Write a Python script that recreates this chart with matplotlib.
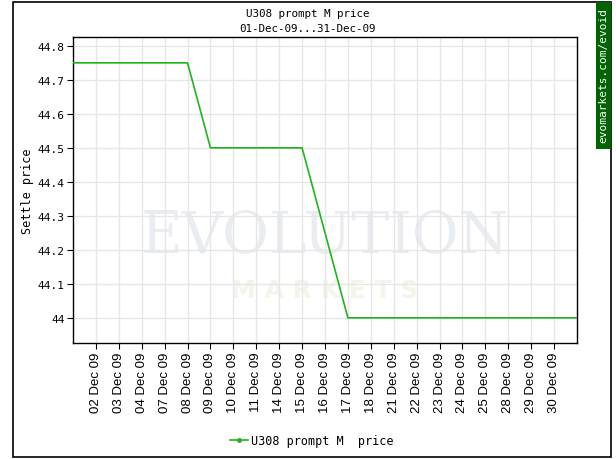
import matplotlib
matplotlib.use("Agg")
import matplotlib.pyplot as plt
from matplotlib.patches import Rectangle

# daily settle prices, 01-Dec-09 .. 31-Dec-09 (trading days only)
dates = ["01 Dec 09", "02 Dec 09", "03 Dec 09", "04 Dec 09", "07 Dec 09", "08 Dec 09",
         "09 Dec 09", "10 Dec 09", "11 Dec 09", "14 Dec 09", "15 Dec 09", "16 Dec 09",
         "17 Dec 09", "18 Dec 09", "21 Dec 09", "22 Dec 09", "23 Dec 09", "24 Dec 09",
         "25 Dec 09", "28 Dec 09", "29 Dec 09", "30 Dec 09", "31 Dec 09"]
prices = [44.75, 44.75, 44.75, 44.75, 44.75, 44.75,
          44.5, 44.5, 44.5, 44.5, 44.5, 44.25,
          44.0, 44.0, 44.0, 44.0, 44.0, 44.0,
          44.0, 44.0, 44.0, 44.0, 44.0]
y_ticks = [44.0, 44.1, 44.2, 44.3, 44.4, 44.5, 44.6, 44.7, 44.8]

mono = "DejaVu Sans Mono"
line_col = "#1fb41f"

fig = plt.figure(figsize=(6.16, 4.6), dpi=100)
ax = fig.add_axes([0.1185, 0.2522, 0.8182, 0.6652])

x = list(range(len(dates)))

# watermark
ax.text(0.5, 0.35, "EVOLUTION", transform=ax.transAxes, ha="center", va="center",
        fontsize=41, family="DejaVu Serif", color="#e9edf1", zorder=0)
ax.text(0.5, 0.173, "M A R K E T S", transform=ax.transAxes, ha="center", va="center",
        fontsize=18, family="DejaVu Sans", weight="bold", color="#f1f5ea", zorder=0)

ax.plot(x, prices, color=line_col, lw=1.2, zorder=3)

ax.set_xlim(0, len(dates) - 1)
ax.set_ylim(43.926, 44.826)
ax.set_xticks(x[1:-1])
ax.set_xticklabels(dates[1:-1], rotation=90, fontsize=9.5, family="Liberation Sans")
ax.set_yticks(y_ticks)
ax.set_yticklabels([f"{v:g}" for v in y_ticks], fontsize=8, family=mono)
ax.tick_params(direction="out", length=4, width=0.8, pad=2)
ax.grid(True, color="#e6e6e6", lw=1)
ax.set_axisbelow(True)
for s in ax.spines.values():
    s.set_linewidth(1)

ax.set_ylabel("Settle price", family=mono, fontsize=8.5)
ax.yaxis.set_label_coords((34 - 73) / 504, 0.5)

fig.text(0.5, 1 - 14 / 460, "U308 prompt M price", ha="center", va="center",
         family=mono, fontsize=7.8)
fig.text(0.5, 1 - 29 / 460, "01-Dec-09...31-Dec-09", ha="center", va="center",
         family=mono, fontsize=7.8)

# legend at bottom
leg = ax.legend([plt.Line2D([], [], color=line_col, lw=1.2, marker="o", markersize=2.5)],
                ["U308 prompt M  price"], loc="center", bbox_to_anchor=(312 / 616, 1 - 442 / 460),
                bbox_transform=fig.transFigure, frameon=False, handlelength=1.5,
                handletextpad=0.3, prop={"family": mono, "size": 8.5})

# outer frame
fig.patches.append(Rectangle((13 / 616, 1 - 458 / 460), 598 / 616, 455 / 460,
                             transform=fig.transFigure, fill=False, lw=1.2,
                             edgecolor="black"))
# green side tab
fig.patches.append(Rectangle((596 / 616, 1 - 150 / 460), 15 / 616, 147 / 460,
                             transform=fig.transFigure, facecolor="#006400",
                             edgecolor="none"))
fig.text(603.5 / 616, 1 - 76 / 460, "evomarkets.com/evoid", rotation=90, ha="center",
         va="center", color="white", family=mono, fontsize=8)

fig.savefig("out.png", dpi=100)
